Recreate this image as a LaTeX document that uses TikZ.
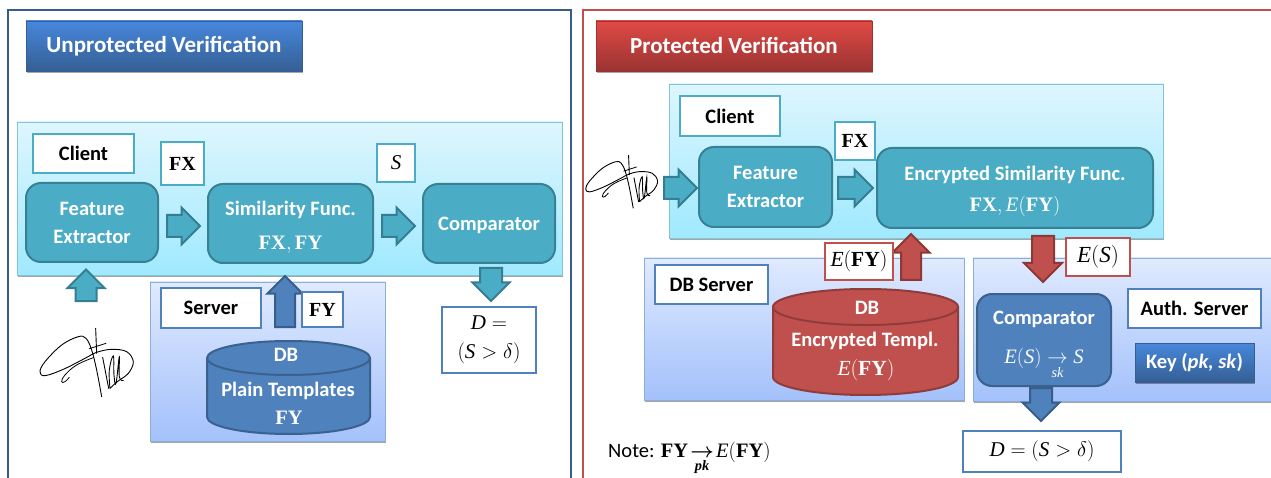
\documentclass[tikz,border=0pt]{standalone}
\usepackage{amsmath}
\usepackage{bm}
\usepackage[no-math]{fontspec}
\usepackage{fix-cm}
\setmainfont{Carlito}
\newfontfamily\mathserif{Liberation Serif}
\newcommand{\vecname}[1]{\text{\mathserif\bfseries\upshape #1}}
\newcommand{\varname}[1]{\text{\mathserif\mdseries\itshape #1}}
\usepackage{tikz}
\usetikzlibrary{shapes.arrows, shadows}
\definecolor{myblue}{HTML}{4F81BD}
\definecolor{mydarkblue}{HTML}{385D8A}
\definecolor{myteal}{HTML}{4BACC6}
\definecolor{mydarkteal}{HTML}{357D91}
\definecolor{myred}{HTML}{C0504D}
\definecolor{mydarkred}{HTML}{8C3836}
\definecolor{clienttop}{HTML}{DEF6FE}
\definecolor{clientbottom}{HTML}{A0E9FF}
\definecolor{servertop}{HTML}{E0EAFF}
\definecolor{serverbottom}{HTML}{A3C1FB}
\definecolor{bluebartop}{HTML}{4787DC}
\definecolor{bluebarmid}{HTML}{3F78C4}
\definecolor{bluebarbottom}{HTML}{355F94}
\definecolor{redbartop}{HTML}{E04A46}
\definecolor{redbarmid}{HTML}{C93E3C}
\definecolor{redbarbottom}{HTML}{9A3331}
\tikzset{
	softshadow/.style={drop shadow={shadow xshift=1pt,shadow yshift=-2pt,opacity=.35,fill=black}},
	sized/.style n args={2}{minimum width=#1,minimum height=#2,inner sep=0pt,outer sep=0pt},
	titlebar/.style={softshadow,draw=#1barbottom,line width=.5pt,top color=#1bartop,middle color=#1barmid,bottom color=#1barbottom,text=white,font=\fontsize{23}{27}\selectfont\bfseries},
	clientpanel/.style={softshadow,draw=myteal!70,line width=.8pt,top color=clienttop,bottom color=clientbottom},
	serverpanel/.style={softshadow,draw=myblue!65,line width=.8pt,top color=servertop,bottom color=serverbottom},
	labelbox/.style={draw=#1,line width=2.2pt,fill=white,font=\fontsize{20.5}{25}\selectfont\bfseries,align=center},
	block/.style={rounded corners=15pt,draw=#1!75!black,line width=2pt,fill=#1,text=white,font=\fontsize{20.5}{28}\selectfont\bfseries,align=center},
	blockarrow/.style n args={4}{single arrow,anchor=tail,shape border rotate=#1,minimum height=#2,single arrow head extend={(#3-#4)/2},single arrow head indent=0pt,inner sep={#4/2},outer sep=0pt,line width=2pt},
	tealarrow/.style={draw=mydarkteal,fill=myteal},
	bluearrow/.style={draw=mydarkblue,fill=myblue},
	redarrow/.style={draw=mydarkred,fill=myred},
	dbdrum/.style={draw=#1!75!black,line width=2pt,fill=#1},
	dbrim/.style={draw=#1!75!black,line width=2pt},
	dbtext/.style={text=white,font=\fontsize{20.5}{25}\selectfont\bfseries},
	signature/.pic={
		\draw[line width=.9pt,line cap=round,line join=round] plot[smooth,tension=.6] coordinates {(215,230) (200,150) (185,90) (168,55) (145,50) (95,75) (45,125) (30,155) (45,167) (100,148) (165,115) (200,97) (245,88) (290,95) (310,125) (295,160) (262,185) (240,205)};
		\draw[line width=.9pt,line cap=round] (197,25) -- (200,100);
		\draw[line width=.8pt,line cap=round] (178,86) -- (228,70);
		\draw[line width=.8pt,line cap=round] plot[smooth,tension=.7] coordinates {(190,113) (140,135) (105,165) (95,185) (105,185) (118,172)};
		\draw[line width=.9pt,line cap=round] (218,112) -- (236,205);
		\draw[line width=.9pt,line cap=round] plot[smooth,tension=.7] coordinates {(240,205) (238,150) (250,108) (252,165) (258,190) (268,110) (268,170) (280,182)};
	}
}
\begin{document}
\begin{tikzpicture}[x=1pt,y=-1pt]
	\useasboundingbox (0,0) rectangle (1271,478);
	\coordinate (frameAa) at (8,478);
	\coordinate (frameAb) at (8,10);
	\coordinate (frameAc) at (571,10);
	\coordinate (frameAd) at (571,478);
	\coordinate (frameBa) at (583,478);
	\coordinate (frameBb) at (583,10);
	\coordinate (frameBc) at (1271,10);
	\draw [line width=2pt,color=mydarkblue] (frameAa) -- (frameAb) -- (frameAc) -- (frameAd);
	\draw [line width=2pt,color=myred] (frameBa) -- (frameBb) -- (frameBc);
	\node (titleplain) [titlebar=blue,sized={276}{50}] at (164,46) {Unprotected Verification};
	\node (titleprot) [titlebar=red,sized={276}{50}] at (734,46) {Protected Verification};

	\node (clientA) [clientpanel,sized={545}{153}] at (289.5,198.5) {};
	\node (clientAlabel) [labelbox=myteal,sized={101}{39}] at (83.5,153.5) {Client};
	\node (fxA) [labelbox=myteal,sized={43}{43},font=\fontsize{20}{25}\selectfont] at (182.5,163.5) {\(\vecname{FX}\)};
	\node (scoreA) [labelbox=myteal,sized={38}{38},font=\fontsize{21}{25}\selectfont] at (396,163) {\(\varname{S}\)};
	\node (featureA) [block=myteal,sized={132}{79}] at (92,222.5) {Feature\\Extractor};
	\node (simA) [block=myteal,sized={165}{79}] at (290.5,223.5) {\rule{0pt}{22pt}Similarity Func.\\[6pt]\(\vecname{FX},\vecname{FY}\)};
	\node (compA) [block=myteal,sized={132}{79}] at (489,223.5) {\rule{0pt}{18pt}Comparator};
	\node (arrowAa) [blockarrow={0}{33}{35}{20},tealarrow] at (167,226) {};
	\node (arrowAb) [blockarrow={0}{33}{35}{20},tealarrow] at (382,226) {};
	\node (arrowAc) [blockarrow={90}{30}{35}{19},tealarrow] at (86,301) {};
	\node (arrowAd) [blockarrow={270}{31}{35}{20},tealarrow] at (491,268) {};
	\node (serverA) [serverpanel,sized={235}{159}] at (267.5,361.5) {};
	\node (serverAlabel) [labelbox=myblue,sized={100}{40}] at (211,308) {Server};
	\node (arrowAe) [blockarrow={90}{51}{33}{18},bluearrow] at (285,327) {};
	\node (fyA) [labelbox=myblue,sized={41}{35},font=\fontsize{20}{25}\selectfont] at (322.5,309.5) {\(\vecname{FY}\)};
	\draw [dbdrum=myblue] (207,358) arc[x radius=81.5,y radius=17,start angle=180,end angle=360] -- (370,417) arc[x radius=81.5,y radius=17,start angle=0,end angle=180] -- cycle;
	\draw [dbrim=myblue] (207,358) arc[x radius=81.5,y radius=17,start angle=180,end angle=0];
	\node (cylAa) [dbtext] at (286,355) {DB};
	\node (cylAb) [dbtext] at (288,391) {Plain Templates};
	\node (cylAc) [dbtext] at (289,418) {\(\vecname{FY}\)};
	\node (decisionA) [labelbox=myblue,sized={94}{66},font=\fontsize{21}{29}\selectfont] at (489,340) {\(\varname{D}=\)\\\((\varname{S}>\delta)\)};
	\pic (signA) at (30,320) [scale=.3333] {signature};

	\node (clientB) [clientpanel,sized={494}{154}] at (916,161) {};
	\node (clientBlabel) [labelbox=myteal,sized={100}{40}] at (730,116) {Client};
	\node (fxB) [labelbox=myteal,sized={40}{38},font=\fontsize{20}{25}\selectfont] at (855,141) {\(\vecname{FX}\)};
	\node (featureB) [block=myteal,sized={133}{80}] at (765.5,187) {Feature\\Extractor};
	\node (simB) [block=myteal,sized={276}{80}] at (1015,188) {\rule{0pt}{22pt}Encrypted Similarity Func.\\[3pt]\(\vecname{FX},\varname{E}(\vecname{FY})\)};
	\node (arrowBa) [blockarrow={0}{33}{35}{20},tealarrow] at (664,188) {};
	\node (arrowBb) [blockarrow={0}{35}{35}{20},tealarrow] at (838,188) {};
	\pic (signB) at (578,149) [scale=.2567] {signature};
	\node (serverB) [serverpanel,sized={320}{142}] at (804,329) {};
	\node (authB) [serverpanel,sized={298}{143}] at (1122,329.5) {};
	\node (serverBlabel) [labelbox=myblue,sized={113}{39}] at (711.5,284.5) {DB Server};
	\node (arrowBc) [blockarrow={90}{46}{35}{18},redarrow] at (911,280) {};
	\node (fyB) [labelbox=myred,sized={68}{37},font=\fontsize{21.5}{25}\selectfont] at (859,261.5) {\(\varname{E}(\vecname{FY})\)};
	\node (arrowBd) [blockarrow={270}{46}{36}{20},redarrow] at (1043,236) {};
	\node (scoreB) [labelbox=myred,sized={64}{38},font=\fontsize{23}{25}\selectfont] at (1098,257) {\(\varname{E}(\varname{S})\)};
	\draw [dbdrum=myred] (773,307) arc[x radius=92.5,y radius=18,start angle=180,end angle=360] -- (958,377) arc[x radius=92.5,y radius=18,start angle=0,end angle=180] -- cycle;
	\draw [dbrim=myred] (773,307) arc[x radius=92.5,y radius=18,start angle=180,end angle=0];
	\node (cylBa) [dbtext] at (867,308) {DB};
	\node (cylBb) [dbtext] at (865,341) {Encrypted Templ.};
	\node (cylBc) [dbtext,font=\fontsize{21.5}{25}\selectfont] at (866,370) {\(\varname{E}(\vecname{FY})\)};
	\node (compB) [block=myblue,sized={134}{92},font=\fontsize{20.5}{25}\selectfont\bfseries] at (1044,340) {\rule{0pt}{24pt}Comparator\\[14pt]\(\varname{E}(\varname{S})\underset{\varname{sk}}{\rightarrow}\varname{S}\)};
	\node (authBlabel) [labelbox=myblue,sized={133}{39}] at (1194.5,308.5) {Auth. Server};
	\node (keyB) [titlebar=blue,sized={119}{39},font=\fontsize{20.5}{25}\selectfont\bfseries] at (1194.5,362.5) {Key (\textit{pk, sk})};
	\node (arrowBe) [blockarrow={270}{31}{35}{20},bluearrow] at (1041,388) {};
	\node (decisionB) [labelbox=myblue,sized={158}{41},font=\fontsize{21}{25}\selectfont] at (1042,451.5) {\(\varname{D}=(\varname{S}>\delta)\)};
	\node (noteB) [anchor=base west,inner sep=0pt,font=\fontsize{20.5}{25}\selectfont] at (608,457) {Note: \(\vecname{FY}\!\underset{\vecname{\itshape pk}}{\bm{\rightarrow}}\!\varname{E}(\vecname{FY})\)};
\end{tikzpicture}
\end{document}
